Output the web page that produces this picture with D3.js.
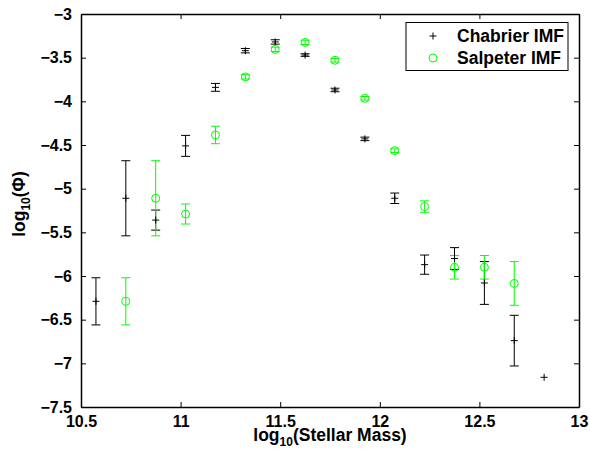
<!DOCTYPE html>
<html>
<head>
<meta charset="utf-8">
<script src="https://cdn.jsdelivr.net/npm/d3@7"></script>
<style>
  body { margin: 0; background: #fff; }
  svg { display: block; font-family: "Liberation Sans", Arial, sans-serif; font-weight: bold; }
</style>
</head>
<body>
<svg width="590" height="450"></svg>
<script>
// Chabrier IMF
const chabMass = [10.575, 10.725, 10.875, 11.025, 11.175, 11.325, 11.475, 11.625, 11.775, 11.925, 12.075, 12.225, 12.375, 12.525, 12.675, 12.825];
const chabPhi  = [-6.29, -5.11, -5.36, -4.51, -3.84, -3.42, -3.32, -3.47, -3.87, -4.43, -5.11, -5.87, -5.80, -6.08, -6.74, -7.16];
const chabErr  = [0.27, 0.43, 0.115, 0.12, 0.045, 0.025, 0.025, 0.015, 0.02, 0.02, 0.06, 0.11, 0.125, 0.245, 0.29, 0];

// Salpeter IMF
const salpMass = [10.725, 10.875, 11.025, 11.175, 11.325, 11.475, 11.625, 11.775, 11.925, 12.075, 12.225, 12.375, 12.525, 12.675];
const salpPhi  = [-6.29, -5.11, -5.29, -4.385, -3.72, -3.405, -3.325, -3.53, -3.965, -4.565, -5.205, -5.90, -5.90, -6.085];
const salpErr  = [0.27, 0.43, 0.115, 0.1, 0.025, 0.025, 0.025, 0.02, 0.02, 0.02, 0.065, 0.135, 0.135, 0.25];

const xTicks = [10.5, 11, 11.5, 12, 12.5, 13];
const yTicks = [-7.5, -7, -6.5, -6, -5.5, -5, -4.5, -4, -3.5, -3];

const svg = d3.select('svg');

const x = d3.scaleLinear().domain([10.5, 13]).range([81, 579]);
const y = d3.scaleLinear().domain([-7.5, -3]).range([407, 14]);

const capW = 4.5;
const fmt = d3.format('~g');

// axes
svg.append('g').attr('transform', 'translate(0,407)')
    .call(d3.axisBottom(x).tickValues(xTicks).tickFormat(fmt).tickSizeInner(-5).tickSizeOuter(0).tickPadding(9));
svg.append('g').attr('transform', 'translate(0,14)')
    .call(d3.axisTop(x).tickValues(xTicks).tickSizeInner(-5).tickSizeOuter(0).tickFormat(''));
svg.append('g').attr('transform', 'translate(81,0)')
    .call(d3.axisLeft(y).tickValues(yTicks).tickFormat(fmt).tickSizeInner(-5).tickSizeOuter(0).tickPadding(9));
svg.append('g').attr('transform', 'translate(579,0)')
    .call(d3.axisRight(y).tickValues(yTicks).tickSizeInner(-5).tickSizeOuter(0).tickFormat(''));

svg.selectAll('.domain').attr('stroke', '#000').attr('stroke-width', 1.5);
svg.selectAll('.tick line').attr('stroke', '#000');
svg.selectAll('.tick text').attr('fill', '#000').attr('font-size', 16)
    .attr('font-family', '"Liberation Sans", Arial, sans-serif').attr('font-weight', 'bold');

// error bars
function errorBars(mass, phi, err, color) {
  const g = svg.append('g').attr('stroke', color).attr('stroke-width', 1).attr('fill', 'none');
  mass.forEach((m, i) => {
    if (!err[i]) return;
    const cx = x(m), top = y(phi[i] + err[i]), bot = y(phi[i] - err[i]);
    g.append('line').attr('x1', cx).attr('x2', cx).attr('y1', top).attr('y2', bot);
    g.append('line').attr('x1', cx - capW).attr('x2', cx + capW).attr('y1', top).attr('y2', top);
    g.append('line').attr('x1', cx - capW).attr('x2', cx + capW).attr('y1', bot).attr('y2', bot);
  });
}

errorBars(chabMass, chabPhi, chabErr, '#000');
errorBars(salpMass, salpPhi, salpErr, '#00ff00');

// plus markers
function plus(g, cx, cy) {
  g.append('path').attr('d', `M${cx - 3.5},${cy}H${cx + 3.5}M${cx},${cy - 3.5}V${cy + 3.5}`)
      .attr('stroke', '#000').attr('stroke-width', 1);
}
const pg = svg.append('g');
chabMass.forEach((m, i) => plus(pg, x(m), y(chabPhi[i])));

svg.append('g').selectAll('circle').data(salpMass).join('circle')
    .attr('cx', d => x(d))
    .attr('cy', (d, i) => y(salpPhi[i]))
    .attr('r', 4)
    .attr('fill', 'none')
    .attr('stroke', '#00ff00')
    .attr('stroke-width', 1);

// legend
const lg = svg.append('g');
lg.append('rect').attr('x', 406).attr('y', 22.5).attr('width', 162).attr('height', 48)
    .attr('fill', '#fff').attr('stroke', '#000').attr('stroke-width', 1);
plus(lg, 433, 36);
lg.append('circle').attr('cx', 433).attr('cy', 58).attr('r', 4)
    .attr('fill', 'none').attr('stroke', '#00ff00');
lg.append('text').attr('x', 457).attr('y', 42).attr('font-size', 17.5).text('Chabrier IMF');
lg.append('text').attr('x', 457).attr('y', 63.5).attr('font-size', 17.5).text('Salpeter IMF');

// axis labels
const xl = svg.append('text').attr('x', 330).attr('y', 441).attr('text-anchor', 'middle').attr('font-size', 17.5);
xl.append('tspan').text('log');
xl.append('tspan').attr('font-size', 12).attr('dy', 5).text('10');
xl.append('tspan').attr('dy', -5).text('(Stellar Mass)');

const yl = svg.append('text').attr('transform', 'translate(25,204) rotate(-90)')
    .attr('text-anchor', 'middle').attr('font-size', 17.5);
yl.append('tspan').text('log');
yl.append('tspan').attr('font-size', 12).attr('dy', 5).text('10');
yl.append('tspan').attr('dy', -5).text('(Φ)');
</script>
</body>
</html>
